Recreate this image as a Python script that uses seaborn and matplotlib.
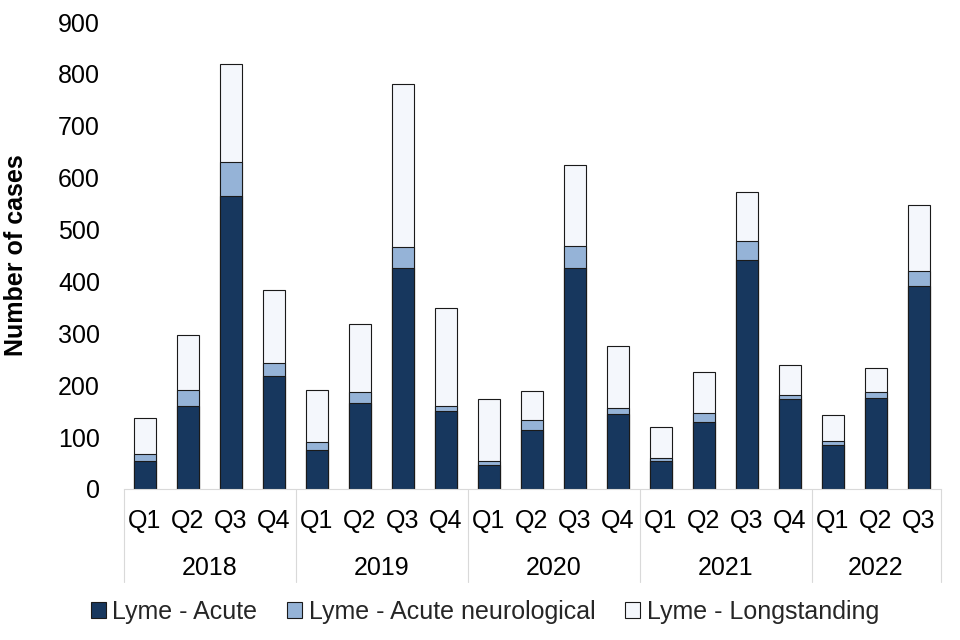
import pandas as pd
import matplotlib
matplotlib.use("Agg")
import matplotlib.pyplot as plt
import seaborn as sns
from matplotlib.patches import Patch

# Quarterly Lyme disease cases
YEARS = ['2018', '2019', '2020', '2021', '2022']
BAR_YEAR = ['2018'] * 4 + ['2019'] * 4 + ['2020'] * 4 + ['2021'] * 4 + ['2022'] * 3
BAR_QUARTER = ['Q1', 'Q2', 'Q3', 'Q4'] * 4 + ['Q1', 'Q2', 'Q3']

ACUTE        = [53, 159, 564, 218, 75, 166, 426, 151, 46, 113, 426, 144, 53, 129, 442, 174, 84, 176, 392]
NEUROLOGICAL = [14, 31, 67, 25, 15, 21, 41, 9, 7, 20, 43, 12, 7, 18, 35, 7, 9, 11, 29]
LONGSTANDING = [69, 107, 189, 141, 100, 131, 314, 189, 121, 56, 156, 120, 59, 78, 96, 58, 50, 47, 127]

SERIES_NAMES = ['Lyme - Acute', 'Lyme - Acute neurological', 'Lyme - Longstanding']
COLORS = ['#17375E', '#95B3D7', '#F4F7FC']
EDGE = '#1a1a1a'
GREY = '#D9D9D9'
FS = 18

df = pd.DataFrame({
    'period': [f'{y} {q}' for y, q in zip(BAR_YEAR, BAR_QUARTER)],
    'acute': ACUTE,
    'neuro': NEUROLOGICAL,
    'long': LONGSTANDING,
})
df['acute_neuro'] = df['acute'] + df['neuro']
df['total'] = df['acute_neuro'] + df['long']

sns.set_theme(style="white")
plt.rcParams['font.family'] = ['Liberation Sans', 'DejaVu Sans']

fig = plt.figure(figsize=(9.6, 6.4), dpi=100)
ax = fig.add_axes([123.5 / 960, 151 / 640, 817 / 960, 467 / 640])

# stacked bars by drawing cumulative totals back to front
for col, color in zip(['total', 'acute_neuro', 'acute'], COLORS[::-1]):
    sns.barplot(data=df, x='period', y=col, color=color, saturation=1,
                edgecolor=EDGE, linewidth=0.8, width=0.5, errorbar=None, ax=ax)

ax.set_xlim(-0.5, len(df) - 0.5)
ax.set_ylim(0, 900)
ax.set_yticks(range(0, 901, 100))
ax.set_xticks(range(len(df)))
ax.set_xticklabels(BAR_QUARTER)
ax.tick_params(axis='both', length=0, labelsize=FS, colors='#000000')
ax.tick_params(axis='x', pad=14.5)
ax.tick_params(axis='y', pad=17)
ax.set_xlabel('')
ax.set_ylabel('Number of cases', fontsize=18, fontweight='bold', color='#000000')
ax.yaxis.set_label_coords(-0.117, 0.5)

for side in ['top', 'right', 'left']:
    ax.spines[side].set_visible(False)
ax.spines['bottom'].set_color(GREY)
ax.spines['bottom'].set_linewidth(0.8)

# year group labels and separators under the quarter labels
trans = ax.get_xaxis_transform()
start = 0
for year in YEARS:
    n = BAR_YEAR.count(year)
    ax.text(start + (n - 1) / 2, -0.17, year, transform=trans,
            ha='center', va='center', fontsize=FS, color='#000000')
    start += n
sep_depth = (582 - 489) / 467
bounds = [-0.5]
for year in YEARS:
    bounds.append(bounds[-1] + BAR_YEAR.count(year))
for b in bounds:
    ax.plot([b, b], [0, -sep_depth], transform=trans, clip_on=False,
            color=GREY, linewidth=0.8)

handles = [Patch(facecolor=c, edgecolor=EDGE, linewidth=0.8) for c in COLORS]
fig.legend(handles, SERIES_NAMES, loc='center', bbox_to_anchor=(485 / 960, 1 - 612 / 640),
           ncol=3, frameon=False, fontsize=FS, handlelength=0.6, handleheight=0.6,
           handletextpad=0.25, columnspacing=1.2)

fig.savefig('out.png', dpi=100)
